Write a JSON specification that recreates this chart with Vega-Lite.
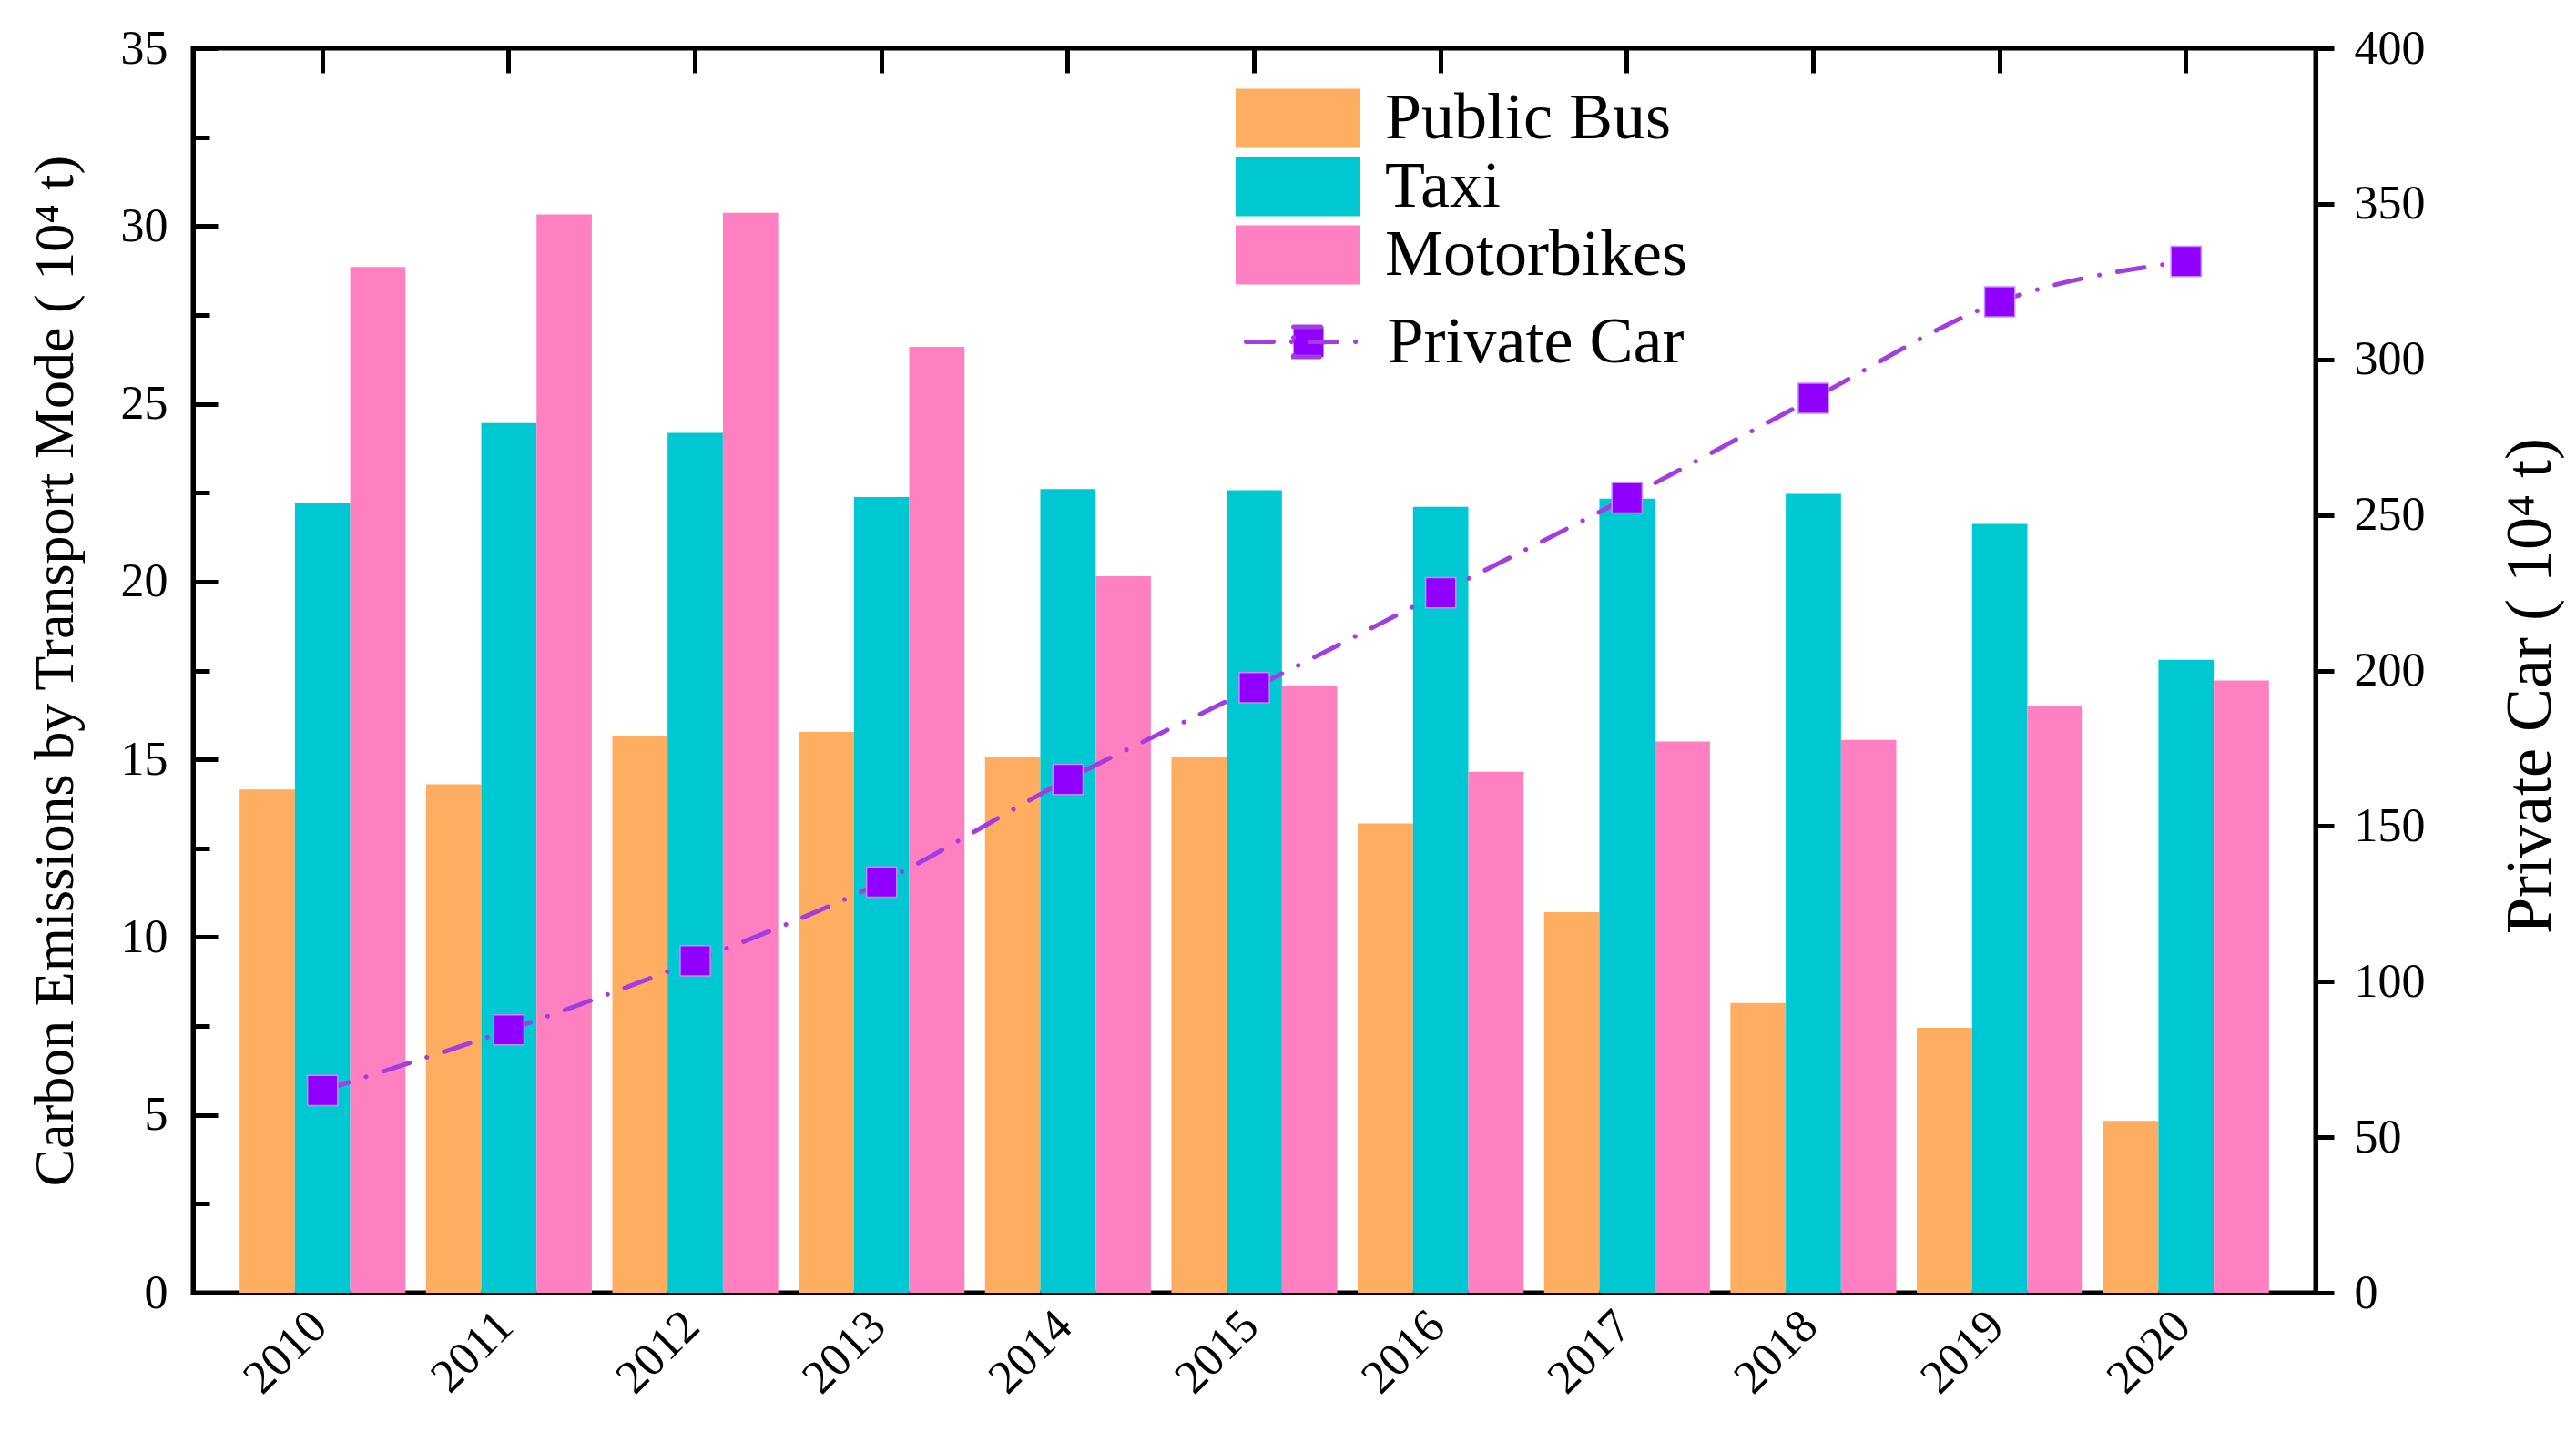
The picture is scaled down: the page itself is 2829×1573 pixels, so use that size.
{
  "$schema": "https://vega.github.io/schema/vega-lite/v6.json",
  "width": 2331,
  "height": 1367,
  "autosize": {"type": "none"},
  "padding": {"left": 212, "top": 53, "right": 286, "bottom": 153},
  "background": "white",
  "config": {
    "font": "Liberation Serif",
    "view": {"stroke": "black", "strokeWidth": 5},
    "axis": {
      "labelFont": "Liberation Serif",
      "titleFont": "Liberation Serif",
      "labelColor": "black",
      "titleColor": "black",
      "titleFontWeight": "normal",
      "domainColor": "black",
      "tickColor": "black",
      "domainWidth": 5,
      "tickWidth": 5,
      "grid": false,
      "labelFontSize": 52
    },
    "legend": {"labelFont": "Liberation Serif", "labelFontSize": 72, "labelColor": "black", "labelLimit": 0, "padding": 0}
  },
  "datasets": {
    "bars": [
      {"year": "2010", "mode": "Public Bus", "value": 14.15},
      {"year": "2010", "mode": "Taxi", "value": 22.2},
      {"year": "2010", "mode": "Motorbikes", "value": 28.85},
      {"year": "2011", "mode": "Public Bus", "value": 14.3},
      {"year": "2011", "mode": "Taxi", "value": 24.46},
      {"year": "2011", "mode": "Motorbikes", "value": 30.33},
      {"year": "2012", "mode": "Public Bus", "value": 15.65},
      {"year": "2012", "mode": "Taxi", "value": 24.18},
      {"year": "2012", "mode": "Motorbikes", "value": 30.37},
      {"year": "2013", "mode": "Public Bus", "value": 15.77},
      {"year": "2013", "mode": "Taxi", "value": 22.38},
      {"year": "2013", "mode": "Motorbikes", "value": 26.6},
      {"year": "2014", "mode": "Public Bus", "value": 15.08},
      {"year": "2014", "mode": "Taxi", "value": 22.6},
      {"year": "2014", "mode": "Motorbikes", "value": 20.15},
      {"year": "2015", "mode": "Public Bus", "value": 15.07},
      {"year": "2015", "mode": "Taxi", "value": 22.57},
      {"year": "2015", "mode": "Motorbikes", "value": 17.05},
      {"year": "2016", "mode": "Public Bus", "value": 13.2},
      {"year": "2016", "mode": "Taxi", "value": 22.1},
      {"year": "2016", "mode": "Motorbikes", "value": 14.65},
      {"year": "2017", "mode": "Public Bus", "value": 10.7},
      {"year": "2017", "mode": "Taxi", "value": 22.33},
      {"year": "2017", "mode": "Motorbikes", "value": 15.5},
      {"year": "2018", "mode": "Public Bus", "value": 8.15},
      {"year": "2018", "mode": "Taxi", "value": 22.47},
      {"year": "2018", "mode": "Motorbikes", "value": 15.55},
      {"year": "2019", "mode": "Public Bus", "value": 7.45},
      {"year": "2019", "mode": "Taxi", "value": 21.62},
      {"year": "2019", "mode": "Motorbikes", "value": 16.5},
      {"year": "2020", "mode": "Public Bus", "value": 4.83},
      {"year": "2020", "mode": "Taxi", "value": 17.8},
      {"year": "2020", "mode": "Motorbikes", "value": 17.22}
    ],
    "cars": [
      {"year": "2010", "car": 65},
      {"year": "2011", "car": 84.5},
      {"year": "2012", "car": 106.7},
      {"year": "2013", "car": 132},
      {"year": "2014", "car": 165},
      {"year": "2015", "car": 194.5},
      {"year": "2016", "car": 225},
      {"year": "2017", "car": 255.5},
      {"year": "2018", "car": 287.5},
      {"year": "2019", "car": 318.5},
      {"year": "2020", "car": 331.5}
    ]
  },
  "layer": [
    {
      "data": {"name": "bars"},
      "mark": {"type": "bar"},
      "encoding": {
        "x": {
          "field": "year", "type": "nominal",
          "scale": {"type": "band", "paddingInner": 0.11, "paddingOuter": 0.25},
          "axis": {"orient": "bottom", "title": null, "labelAngle": -45, "labelAlign": "right", "labelBaseline": "middle", "labelOffset": -4, "tickSize": -24, "labelPadding": 52}
        },
        "xOffset": {"field": "mode", "type": "nominal", "sort": ["Public Bus", "Taxi", "Motorbikes"], "scale": {"paddingInner": 0, "paddingOuter": 0}},
        "y": {
          "field": "value", "type": "quantitative",
          "scale": {"domain": [0, 35], "nice": false},
          "axis": {
            "orient": "left", "values": [0, 5, 10, 15, 20, 25, 30, 35], "tickSize": -27, "labelPadding": 55,
            "title": "Carbon Emissions by Transport Mode ( 10⁴ t)", "titleFontSize": 62, "titlePadding": 40
          }
        },
        "fill": {
          "field": "mode", "type": "nominal",
          "scale": {"domain": ["Public Bus", "Taxi", "Motorbikes"], "range": ["#FFAD60", "#00C8D3", "#FF80C1"]},
          "legend": {
            "orient": "none", "legendX": 1177.5, "legendY": 41, "title": null,
            "symbolType": "M-1.903,-0.903H1.903V0.903H-1.903Z", "symbolSize": 5184, "symbolStrokeWidth": 0,
            "symbolOpacity": 1, "labelOffset": 59.5, "rowPadding": 3
          }
        }
      }
    },
    {
      "data": {"name": "cars"},
      "mark": {"type": "line", "interpolate": "monotone", "strokeWidth": 5, "strokeDash": [30, 20, 0.1, 20], "strokeCap": "round"},
      "encoding": {
        "x": {"field": "year", "type": "nominal", "bandPosition": 0.5, "scale": {"type": "band"}, "axis": null},
        "y": {
          "field": "car", "type": "quantitative",
          "scale": {"domain": [0, 400], "nice": false},
          "axis": {
            "orient": "right", "values": [0, 50, 100, 150, 200, 250, 300, 350, 400], "tickSize": 20, "labelPadding": 22,
            "title": "Private Car ( 10⁴ t)", "titleFontSize": 72, "titleAngle": -90, "titleBaseline": "top", "titlePadding": 80, "titleY": 700
          }
        },
        "stroke": {
          "datum": "Private Car", "type": "nominal",
          "scale": {"range": ["#A43DE0"]},
          "legend": {
            "orient": "none", "legendX": 1186.5, "legendY": 284, "title": null,
            "symbolType": "M-1.903,0H1.903M-0.458,-0.458H0.458V0.458H-0.458Z", "symbolSize": 5184,
            "symbolStrokeWidth": 5, "symbolDash": [30, 20, 0.1, 20], "symbolFillColor": "#9100FF",
            "labelOffset": 48,
            "encode": {"symbols": {"update": {"fill": {"value": "#9100FF"}, "strokeCap": {"value": "round"}}}}
          }
        }
      }
    },
    {
      "data": {"name": "cars"},
      "mark": {"type": "square", "size": 1100, "filled": true, "color": "#9100FF", "stroke": "#C58CFF", "strokeWidth": 1.5, "opacity": 1},
      "encoding": {
        "x": {"field": "year", "type": "nominal", "bandPosition": 0.5, "scale": {"type": "band"}, "axis": null},
        "y": {"field": "car", "type": "quantitative", "scale": {"domain": [0, 400], "nice": false}, "axis": null}
      }
    },
    {
      "data": {"name": "cars"},
      "mark": {"type": "point", "opacity": 0},
      "encoding": {
        "x": {
          "field": "year", "type": "nominal", "scale": {"type": "band"},
          "axis": {"orient": "top", "labels": false, "domain": false, "tickSize": -27, "title": null}
        },
        "y": {
          "datum": 0, "type": "quantitative",
          "scale": {"domain": [0, 35], "nice": false},
          "axis": {"orient": "left", "values": [2.5, 7.5, 12.5, 17.5, 22.5, 27.5, 32.5], "labels": false, "domain": false, "tickSize": -18, "title": null}
        }
      }
    }
  ],
  "resolve": {"scale": {"y": "independent"}, "axis": {"x": "independent", "y": "independent"}}
}
